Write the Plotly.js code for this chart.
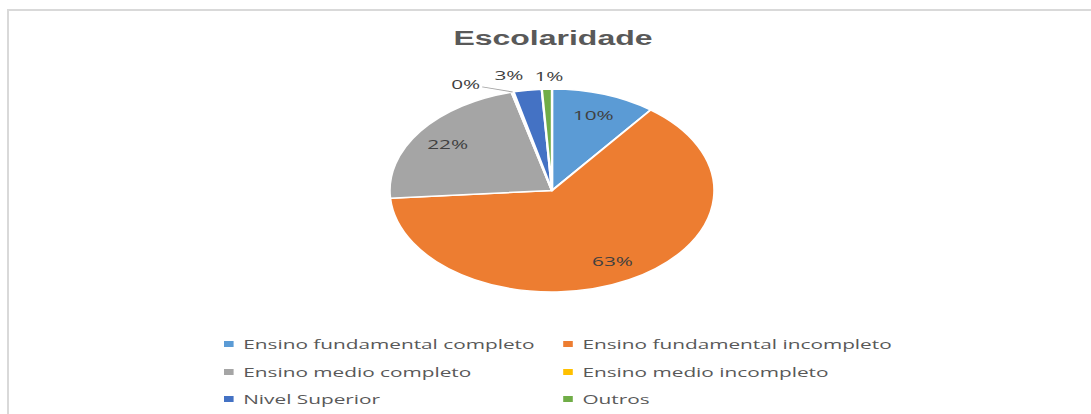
<!DOCTYPE html>
<html>
<head>
<meta charset="utf-8">
<script src="https://cdn.plot.ly/plotly-3.0.1.min.js"></script>
<style>
  html, body { margin: 0; padding: 0; background: #ffffff; overflow: hidden; }
  #stage { position: relative; width: 1091px; height: 414px; overflow: hidden; background: #fff; }
  #wrap { position: absolute; left: 0; top: 0; width: 682px; height: 414px; transform: scaleX(1.6); transform-origin: 0 0; }
  #chart { width: 682px; height: 414px; }
  #frame { position: absolute; left: 7px; top: 9px; width: 2000px; height: 1000px;
           border-left: 2px solid #d9d9d9; border-top: 2px solid #d9d9d9; pointer-events: none; }
</style>
</head>
<body>
<div id="stage">
  <div id="wrap"><div id="chart"></div></div>
  <div id="frame"></div>
</div>
<script>
var categories = [
  "Ensino fundamental completo",
  "Ensino fundamental incompleto",
  "Ensino medio completo",
  "Ensino medio incompleto",
  "Nivel Superior",
  "Outros"
];
var shares = [10.4, 63.4, 22.2, 0.2, 2.8, 1.0];
var sliceColors = ["#5B9BD5", "#ED7D31", "#A5A5A5", "#FFC000", "#4472C4", "#70AD47"];
var chartTitle = "Escolaridade";

var W = 682, H = 414;
var textFont = "Open Sans, Noto Sans, sans-serif";

// pie geometry (unstretched pixels)
var pieCx = 345, pieCy = 190.5, pieR = 101.5;

var traces = [{
  type: "pie",
  labels: categories,
  values: shares,
  sort: false,
  direction: "clockwise",
  rotation: 0,
  marker: { colors: sliceColors, line: { color: "#ffffff", width: 1.5 } },
  textinfo: "none",
  showlegend: false,
  hoverinfo: "label+percent",
  domain: { x: [(pieCx - pieR) / W, (pieCx + pieR) / W], y: [(H - pieCy - pieR) / H, (H - pieCy + pieR) / H] }
}];

// data labels placed at each slice's mid-angle (derived from the values)
var total = shares.reduce(function (a, b) { return a + b; }, 0);
var labelStyle = [
  { inside: true },
  { inside: true },
  { inside: true },
  { inside: false, arrow: true, dx: -29.5, dy: -8 },
  { inside: false, arrow: false, dx: -11.7, dy: -14.7 },
  { inside: false, arrow: false, dx: 0.7, dy: -13.5 }
];
var annotations = [];
var cum = 0;
shares.forEach(function (v, i) {
  var mid = (cum + v / 2) / total * 2 * Math.PI;
  cum += v;
  var st = labelStyle[i];
  var txt = Math.round(v / total * 100) + "%";
  var rr = st.inside ? pieR * 0.79 : pieR;
  var px = pieCx + rr * Math.sin(mid), py = pieCy - rr * Math.cos(mid);
  var ann = {
    xref: "paper", yref: "paper", x: px / W, y: 1 - py / H,
    xanchor: "center", yanchor: "middle",
    text: txt, font: { family: textFont, size: 13, color: "#404040" }
  };
  if (st.inside) {
    ann.showarrow = false;
  } else if (st.arrow) {
    ann.showarrow = true; ann.arrowhead = 0; ann.arrowwidth = 1;
    ann.arrowcolor = "#a6a6a6"; ann.standoff = 0;
    ann.ax = st.dx; ann.ay = st.dy;
  } else {
    ann.showarrow = false; ann.xshift = st.dx; ann.yshift = -st.dy;
  }
  annotations.push(ann);
});

var layout = {
  width: W, height: H,
  margin: { l: 0, r: 0, t: 0, b: 0 },
  paper_bgcolor: "rgba(0,0,0,0)",
  plot_bgcolor: "rgba(0,0,0,0)",
  title: {
    text: chartTitle,
    font: { family: "Liberation Sans, Arial, sans-serif", size: 20, color: "#595959", weight: "bold" },
    x: 345.6 / W, xanchor: "center", xref: "paper",
    y: 1 - 38 / H, yanchor: "middle", yref: "container"
  },
  xaxis: { visible: false },
  yaxis: { visible: false },
  showlegend: true,
  annotations: annotations
};

var colTextX = [152, 364];
var rowY = [344, 372, 399];
categories.forEach(function (name, i) {
  var key = i === 0 ? "legend" : "legend" + (i + 1);
  traces.push({
    type: "scatter", x: [null], y: [null], mode: "markers",
    name: name, legend: key, showlegend: true, hoverinfo: "skip",
    marker: { symbol: "square", size: 6, color: sliceColors[i], line: { width: 0 } }
  });
  var col = i % 2, row = Math.floor(i / 2);
  layout[key] = {
    x: (colTextX[col] - 40) / W, xanchor: "left", xref: "paper",
    y: 1 - rowY[row] / H, yanchor: "middle", yref: "paper",
    bgcolor: "rgba(0,0,0,0)", borderwidth: 0,
    font: { family: textFont, size: 13, color: "#595959" },
    orientation: "v"
  };
});

Plotly.newPlot("chart", traces, layout, { displayModeBar: false, staticPlot: true }).then(function () {
  document.querySelectorAll("#chart .legendpoints").forEach(function (g) {
    g.setAttribute("transform", "translate(11,0)");
  });
});
</script>
</body>
</html>
